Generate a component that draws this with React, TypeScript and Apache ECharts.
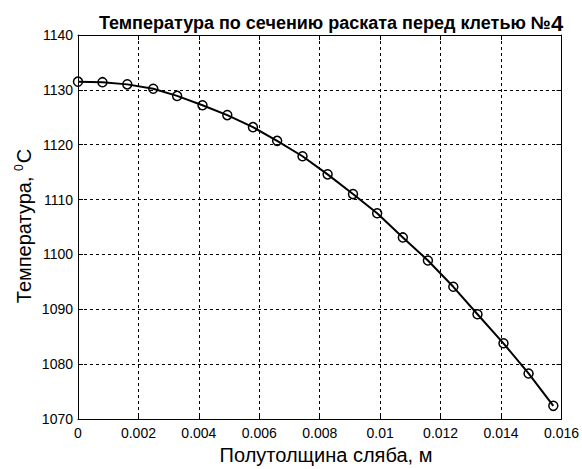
import React, { useEffect, useRef } from "react";
import * as echarts from "echarts";

const xValues = [
  0, 0.00081, 0.00163, 0.00249, 0.00328, 0.00412, 0.00494, 0.00579, 0.00659, 0.00743,
  0.00826, 0.0091, 0.0099, 0.01075, 0.01158, 0.01242, 0.01322, 0.01408, 0.01491, 0.01573,
];
const temperatures = [
  1131.5, 1131.4, 1131.0, 1130.2, 1128.9, 1127.2, 1125.4, 1123.2, 1120.7, 1117.9,
  1114.6, 1111.0, 1107.5, 1103.1, 1098.9, 1094.1, 1089.1, 1083.8, 1078.3, 1072.4,
];
const xTicks = { min: 0, max: 0.016, interval: 0.002 };
const yTicks = { min: 1070, max: 1140, interval: 10 };

const titleText = "Температура по сечению раската перед клетью №{b|4}";
const xName = "Полутолщина сляба, м";
const yName = "Температура, {s|0}C";

const FONT = "'Liberation Sans', Arial, Helvetica, sans-serif";

export default function App() {
  const ref = useRef<HTMLDivElement>(null);
  useEffect(() => {
    if (!ref.current) return;
    const chart = echarts.init(ref.current, undefined, { renderer: "svg" });
    const left = 78, right = 17, top = 35, bottom = 50;
    const fmt = (v: number) => parseFloat(v.toFixed(4)).toString();
    const split = { show: true, lineStyle: { color: "#000", width: 1, type: [3, 3] as any } };
    const axisLine = { show: true, onZero: false, lineStyle: { color: "#000", width: 1 } };
    const tick = { show: true, inside: true, length: 5, lineStyle: { color: "#000" } };
    chart.setOption({
      animation: false,
      backgroundColor: "#fff",
      grid: { left, right, top, bottom, containLabel: false },
      title: {
        text: titleText,
        left: 326,
        top: 7,
        textAlign: "center",
        textStyle: {
          fontFamily: FONT,
          fontSize: 18,
          fontWeight: "bold",
          color: "#000",
          rich: { b: { fontFamily: FONT, fontSize: 22, fontWeight: "bold", color: "#000" } },
        },
      },
      xAxis: [
        {
          type: "value",
          ...xTicks,
          axisLine,
          axisTick: tick,
          splitLine: split,
          axisLabel: { formatter: fmt, fontFamily: FONT, fontSize: 14, color: "#000", margin: 7 },
        },
        {
          type: "value",
          position: "top",
          ...xTicks,
          axisLine,
          axisTick: tick,
          splitLine: { show: false },
          axisLabel: { show: false },
        },
      ],
      yAxis: [
        {
          type: "value",
          ...yTicks,
          axisLine,
          axisTick: tick,
          splitLine: split,
          axisLabel: {
            formatter: (v: number) => String(v),
            fontFamily: FONT,
            fontSize: 14,
            color: "#000",
            margin: 5,
          },
        },
        {
          type: "value",
          position: "right",
          ...yTicks,
          axisLine,
          axisTick: tick,
          splitLine: { show: false },
          axisLabel: { show: false },
        },
      ],
      graphic: [
        {
          type: "text",
          x: 326,
          y: 455,
          style: {
            text: xName,
            fontFamily: FONT,
            fontSize: 20,
            fill: "#000",
            align: "center",
            verticalAlign: "middle",
          },
        },
        {
          type: "text",
          x: 24,
          y: 226,
          rotation: Math.PI / 2,
          style: {
            text: yName,
            fontFamily: FONT,
            fontSize: 20,
            fill: "#000",
            align: "center",
            verticalAlign: "middle",
            rich: {
              s: { fontFamily: FONT, fontSize: 12, fill: "#000", verticalAlign: "top", padding: [0, 1, 11, 0] },
            },
          },
        },
      ],
      series: [
        {
          type: "line",
          data: xValues.map((x, i) => [x, temperatures[i]]),
          symbol: "circle",
          symbolSize: 9,
          showSymbol: true,
          lineStyle: { color: "#000", width: 2 },
          itemStyle: { color: "rgba(0,0,0,0)", borderColor: "#000", borderWidth: 1.5 },
          clip: false,
          z: 5,
        },
      ],
    });
    return () => chart.dispose();
  }, []);
  return (
    <div
      ref={ref}
      style={{ position: "fixed", left: 0, top: 0, width: 582, height: 469, background: "#fff" }}
    />
  );
}
